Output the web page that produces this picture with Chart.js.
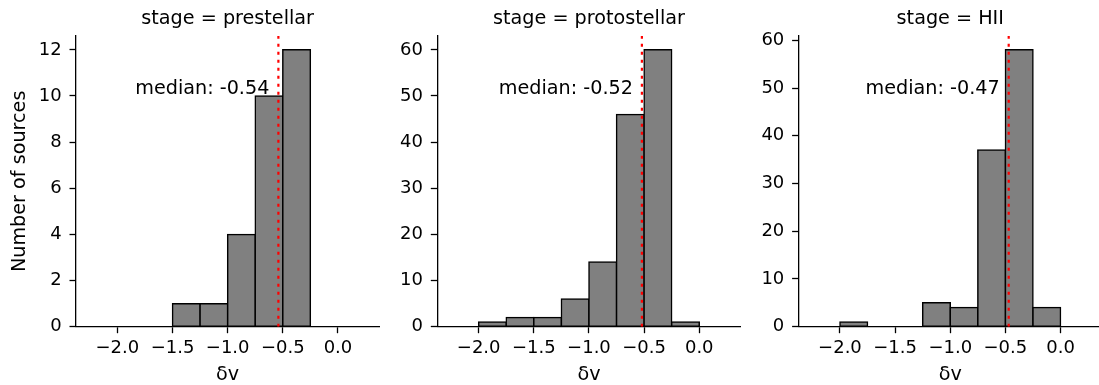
<!DOCTYPE html>
<html>
<head>
<meta charset="utf-8">
<script src="https://cdn.jsdelivr.net/npm/chart.js@4"></script>
<style>
  html, body { margin: 0; padding: 0; background: #fff; overflow: hidden; width: 1099px; height: 385px; }
  canvas { position: absolute; top: 0; }
</style>
</head>
<body>
<canvas id="c0" width="380" height="385" style="left:0px"></canvas>
<canvas id="c1" width="361" height="385" style="left:380px"></canvas>
<canvas id="c2" width="361" height="385" style="left:741px"></canvas>
<script>
// histogram bins (width 0.25) and counts per stage
const binCenters = [-2.125, -1.875, -1.625, -1.375, -1.125, -0.875, -0.625, -0.375, -0.125, 0.125];
const stages = ['prestellar', 'protostellar', 'HII'];
const countsPrestellar = [0, 0, 0, 1, 1, 4, 10, 12, 0, 0];
const countsProtostellar = [0, 1, 2, 2, 6, 14, 46, 60, 1, 0];
const countsHII = [0, 1, 0, 0, 5, 4, 37, 58, 4, 0];
const medians = [-0.54, -0.52, -0.47];

// axis ticks and limits
const xTicks = [-2.0, -1.5, -1.0, -0.5, 0.0];
const yTicksPrestellar = [0, 2, 4, 6, 8, 10, 12];
const yTicksOther = [0, 10, 20, 30, 40, 50, 60];
const xRange = [-2.375, 0.375];
const yMax = [12.6, 63, 60.9];

const FONT = '"DejaVu Sans", sans-serif';
const INK = '#000';

const fmtX = v => (v < 0 ? '\u2212' : '') + Math.abs(v).toFixed(1);

// "median: x.xx" text right of the dotted line, at 80% of axes height
const medianLabel = {
  id: 'medianLabel',
  afterDatasetsDraw(chart, args, opts) {
    const { ctx, chartArea, scales } = chart;
    const x = scales.x.getPixelForValue(opts.value) - 9;
    const y = chartArea.top + 0.2 * (chartArea.bottom - chartArea.top);
    ctx.save();
    ctx.font = '19.2px ' + FONT;
    ctx.fillStyle = INK;
    ctx.textAlign = 'right';
    ctx.textBaseline = 'alphabetic';
    ctx.fillText('median: ' + opts.value.toFixed(2), x, y);
    ctx.restore();
  }
};

function makePanel(id, i, counts, yTicks, yAxisWidth, padRight) {
  return new Chart(document.getElementById(id), {
    type: 'bar',
    data: {
      datasets: [
        {
          type: 'line',
          data: [{ x: medians[i], y: 0 }, { x: medians[i], y: yMax[i] }],
          borderColor: '#ff0000',
          borderWidth: 2.2,
          borderDash: [3, 5],
          pointRadius: 0,
          order: 0
        },
        {
          type: 'bar',
          data: binCenters.map((c, k) => ({ x: c, y: counts[k] })),
          backgroundColor: '#808080',
          borderColor: INK,
          borderWidth: 1.5,
          borderSkipped: false,
          inflateAmount: 0.75,
          barPercentage: 1,
          categoryPercentage: 1,
          order: 1
        }
      ]
    },
    options: {
      responsive: false,
      animation: false,
      layout: { padding: { left: 0, right: padRight, top: 0, bottom: 0 } },
      plugins: {
        legend: { display: false },
        tooltip: { enabled: false },
        title: {
          display: true,
          text: 'stage = ' + stages[i],
          fullSize: false,
          color: INK,
          font: { family: FONT, size: 19.2, weight: 'normal', lineHeight: 1.2 },
          padding: { top: 7.9, bottom: 5.06 }
        },
        medianLabel: { value: medians[i] }
      },
      scales: {
        x: {
          type: 'linear',
          min: xRange[0],
          max: xRange[1],
          offset: false,
          afterBuildTicks: s => { s.ticks = xTicks.map(v => ({ value: v })); },
          afterFit: s => { s.height = 58.3; },
          grid: { display: true, drawOnChartArea: false, drawTicks: true, tickLength: 6.5, tickWidth: 1.3, tickColor: INK, offset: false },
          border: { display: true, color: INK, width: 1.3 },
          ticks: { color: INK, font: { family: FONT, size: 18 }, padding: 4.6, callback: fmtX, maxRotation: 0, autoSkip: false },
          title: { display: true, text: 'δv', color: INK, font: { family: FONT, size: 19.2, lineHeight: 1 }, padding: { top: 0, bottom: 0.5 } }
        },
        y: {
          min: 0,
          max: yMax[i],
          afterBuildTicks: s => { s.ticks = yTicks.map(v => ({ value: v })); },
          afterFit: s => { s.width = yAxisWidth; },
          grid: { display: true, drawOnChartArea: false, drawTicks: true, tickLength: 6.5, tickWidth: 1.3, tickColor: INK },
          border: { display: true, color: INK, width: 1.3 },
          ticks: { color: INK, font: { family: FONT, size: 18 }, padding: 7.8, callback: v => String(v) },
          title: { display: i === 0, text: 'Number of sources', color: INK, font: { family: FONT, size: 19.2, lineHeight: 1 }, padding: { top: 10.5, bottom: 0 } }
        }
      }
    },
    plugins: [medianLabel]
  });
}

makePanel('c0', 0, countsPrestellar, yTicksPrestellar, 76, 0.7);
makePanel('c1', 1, countsProtostellar, yTicksOther, 57.3, 0.4);
makePanel('c2', 2, countsHII, yTicksOther, 57.6, 0.1);
</script>
</body>
</html>
